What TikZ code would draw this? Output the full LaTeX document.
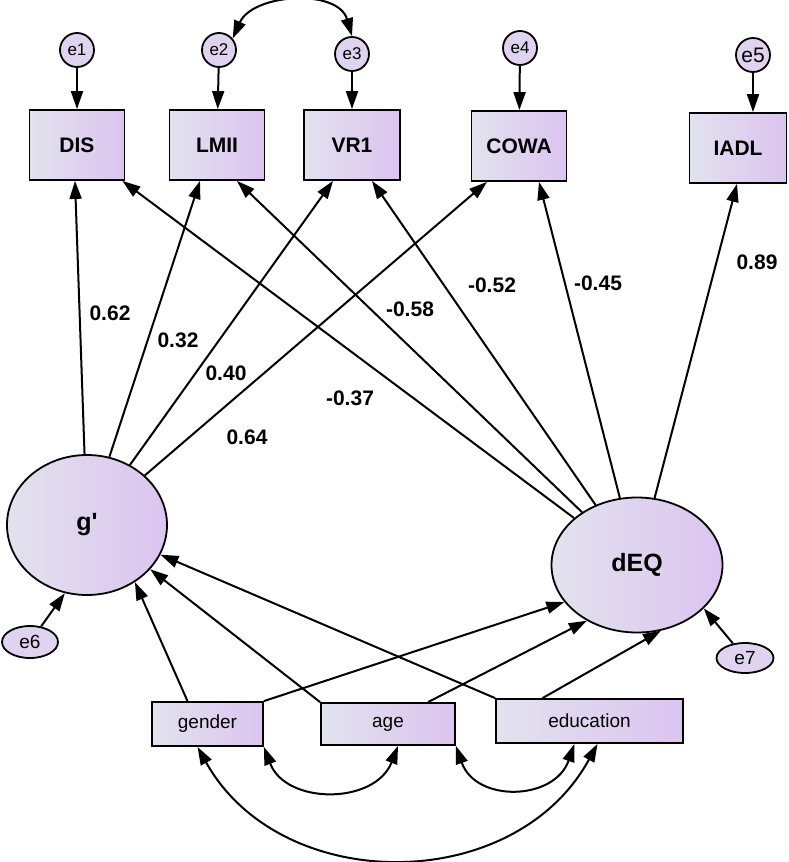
\documentclass[tikz,border=0pt]{standalone}
\usepackage{fontspec}
\setmainfont{Liberation Sans}
\usetikzlibrary{arrows.meta,shapes.geometric}
\definecolor{boxleft}{RGB}{226,226,238}
\definecolor{boxright}{RGB}{220,196,240}
\begin{document}
\begin{tikzpicture}[x=1pt,y=1pt,%
% common options for blocks:
block/.style = {draw, line width=1.8pt, left color=boxleft, right color=boxright,
            align=center, inner sep=0, font=\bfseries\fontsize{21}{22}\selectfont},
% common options for the observed inputs:
input/.style = {block, font=\fontsize{19}{20}\selectfont},
% common options for the circles:
ball/.style = {circle, draw, line width=1.8pt, fill=boxleft!50!boxright,
            inner sep=0, minimum size=34pt, font=\fontsize{17}{18}\selectfont},
% common options for the latent ellipses:
latent/.style = {ellipse, draw, line width=1.8pt, left color=boxleft, right color=boxright,
            inner sep=0, font=\bfseries\fontsize{25}{26}\selectfont},
err/.style = {ellipse, draw, line width=1.8pt, fill=boxleft!50!boxright,
            inner sep=0, font=\fontsize{19}{20}\selectfont},
reg/.style = {line width=2pt, -{Triangle[length=18pt,width=12pt]}},
cov/.style = {line width=2pt, {Triangle[length=18pt,width=12pt]}-{Triangle[length=18pt,width=12pt]}},
coef/.style = {font=\bfseries\fontsize{21}{22}\selectfont}]
\useasboundingbox (0,0) rectangle (788,-862);
% indicators
\node[block, minimum width=95pt, minimum height=70pt] (DIS) at (77,-145) {DIS};
\node[block, minimum width=95pt, minimum height=70pt] (LMII) at (217,-145) {LMII};
\node[block, minimum width=96pt, minimum height=70pt] (VR1) at (352,-145) {VR1};
\node[block, minimum width=95pt, minimum height=70pt] (COWA) at (519,-146) {COWA};
\node[block, minimum width=97pt, minimum height=70pt] (IADL) at (738,-148) {IADL};
\node[ball] (e1) at (77,-50) {e1};
\node[ball] (e2) at (219,-50) {e2};
\node[ball] (e3) at (352,-54) {e3};
\node[ball] (e4) at (520,-48) {e4};
\node[ball, font=\fontsize{21}{22}\selectfont] (e5) at (753,-55) {e5};
% latents
\node[latent, minimum width=160pt, minimum height=140pt] (g) at (87,-525) {g\textquotesingle};
\node[latent, minimum width=171pt, minimum height=135pt] (dEQ) at (637,-565) {dEQ};
\node[err, minimum width=56pt, minimum height=32pt] (e6) at (30,-642) {e6};
\node[err, minimum width=57pt, minimum height=30pt] (e7) at (745,-658) {e7};
% covariates
\node[input, minimum width=111pt, minimum height=44pt] (gender) at (207.5,-724) {gender};
\node[input, minimum width=134pt, minimum height=42pt] (age) at (388,-724) {age};
\node[input, minimum width=187pt, minimum height=44pt] (education) at (589.5,-721) {education};
% errors
\draw[reg] (e1) -- (DIS);
\draw[reg] (e2) -- (LMII);
\draw[reg] (e3) -- (VR1);
\draw[reg] (e4) -- (COWA);
\draw[reg] (e5) -- (e5 |- IADL.north);
\draw[cov] (e2.40) .. controls +(20,45) and +(-14,48) .. (e3.north);
\draw[reg] (e6) -- (g.-108);
\draw[reg] (e7) -- (dEQ.-33);
% loadings
\draw[reg] (g) -- ([xshift=-2pt]DIS.south);
\draw[reg] (g) -- ([xshift=-17pt]LMII.south);
\draw[reg] (g) -- ([xshift=-19pt]VR1.south);
\draw[reg] (g) -- ([xshift=-32pt]COWA.south);
\draw[reg] (dEQ) -- ([xshift=-3pt]DIS.south east);
\draw[reg] (dEQ) -- ([xshift=20pt]LMII.south);
\draw[reg] (dEQ) -- ([xshift=20pt]VR1.south);
\draw[reg] (dEQ) -- ([xshift=20pt]COWA.south);
\draw[reg] (dEQ) -- ([xshift=-1pt]IADL.south);
% covariate paths
\draw[reg] ([xshift=-20pt]gender.north) -- (g.-50);
\draw[reg] (age.north west) -- (g.-35);
\draw[reg] (education.north west) -- (g.-22);
\draw[reg] (gender.north east) -- (dEQ.-153);
\draw[reg] ([xshift=40pt]age.north) -- (dEQ.-132);
\draw[reg] ([xshift=-47pt]education.north) -- (dEQ.-70);
\draw[cov] (gender.south east) .. controls +(22,-58) and +(-23,-59) .. ([xshift=10pt]age.south);
\draw[cov] (age.south east) .. controls +(20,-57) and +(-20,-57) .. ([xshift=-15pt]education.south);
\draw[cov] ([xshift=-10pt]gender.south) .. controls +(83,-149) and +(-83,-152) .. ([xshift=8pt]education.south);
% coefficients
\node[coef] (c1) at (110,-313) {0.62};
\node[coef] (c2) at (178,-340) {0.32};
\node[coef] (c3) at (226,-373) {0.40};
\node[coef] (c4) at (247,-437) {0.64};
\node[coef] (c5) at (350,-398) {-0.37};
\node[coef] (c6) at (410,-309) {-0.58};
\node[coef] (c7) at (492,-285) {-0.52};
\node[coef] (c8) at (598,-283) {-0.45};
\node[coef] (c9) at (757,-262) {0.89};
\end{tikzpicture}
\end{document}
